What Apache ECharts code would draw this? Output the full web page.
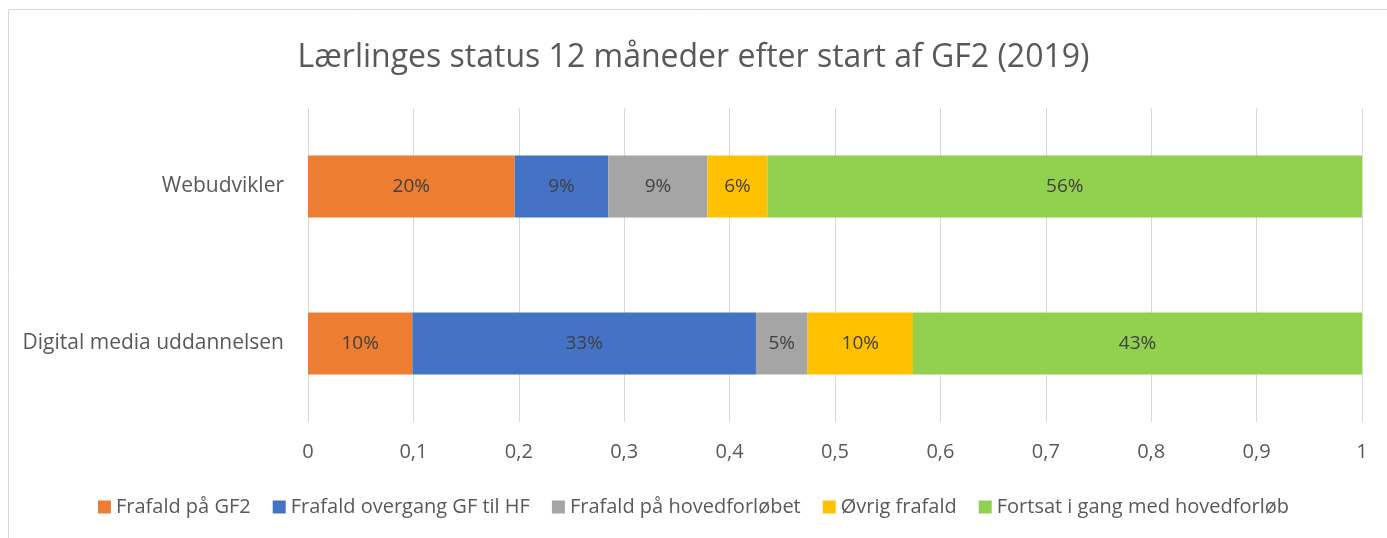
<!DOCTYPE html>
<html>
<head>
<meta charset="utf-8">
<script src="https://cdn.jsdelivr.net/npm/echarts@6/dist/echarts.min.js"></script>
<style>
  html, body { margin: 0; padding: 0; background: #fff; }
  #main { width: 1387px; height: 538px; }
</style>
</head>
<body>
<div id="main"></div>
<script>
'use strict'

// categories (bottom to top as drawn by the y category axis)
const categories = ['Digital media uddannelsen', 'Webudvikler'];

// shares per status, same order as categories
const frafaldGF2 = [0.099, 0.196];
const frafaldOvergang = [0.326, 0.089];
const frafaldHoved = [0.049, 0.094];
const oevrigFrafald = [0.100, 0.057];
const fortsat = [0.426, 0.564];

const seriesNames = ['Frafald på GF2', 'Frafald overgang GF til HF', 'Frafald på hovedforløbet', 'Øvrig frafald', 'Fortsat i gang med hovedforløb'];
const seriesValues = [frafaldGF2, frafaldOvergang, frafaldHoved, oevrigFrafald, fortsat];
const colors = ['#ED7D31', '#4472C4', '#A5A5A5', '#FFC000', '#92D050'];

const font = 'Open Sans';
const textColor = '#595959';

var myChart = echarts.init(document.getElementById('main'), null, { renderer: 'canvas' });

// build the stacked bar series
let series = [];
for (let i = 0; i < seriesNames.length; i++) {
  series.push({
    name: seriesNames[i],
    type: 'bar',
    stack: 'total',
    barWidth: 62,
    data: seriesValues[i],
    itemStyle: { color: colors[i] },
    label: {
      show: true,
      position: 'inside',
      color: '#404040',
      fontFamily: font,
      fontSize: 19,
      formatter: p => Math.round(p.value * 100) + '%'
    }
  });
}

var option = {
  animation: false,
  backgroundColor: '#fff',
  color: colors,
  title: {
    text: 'Lærlinges status 12 måneder efter start af GF2 (2019)',
    left: 'center',
    top: 37,
    textStyle: { fontFamily: font, fontSize: 32, fontWeight: 'normal', color: textColor }
  },
  legend: {
    bottom: 16,
    left: 'center',
    itemWidth: 13,
    itemHeight: 13,
    itemGap: 22,
    icon: 'rect',
    textStyle: { fontFamily: font, fontSize: 20, color: textColor },
    data: seriesNames
  },
  grid: {
    left: 308,
    right: 25,
    top: 108,
    bottom: 116,
    containLabel: false
  },
  xAxis: {
    type: 'value',
    min: 0,
    max: 1,
    interval: 0.1,
    axisLine: { show: false },
    axisTick: { show: false },
    splitLine: { show: true, lineStyle: { color: '#d9d9d9', width: 1 } },
    axisLabel: {
      margin: 20,
      fontFamily: font,
      fontSize: 20,
      color: textColor,
      formatter: v => String(Math.round(v * 10) / 10).replace('.', ',')
    }
  },
  yAxis: {
    type: 'category',
    data: categories,
    axisLine: { show: false },
    axisTick: { show: false },
    axisLabel: { margin: 24, fontFamily: font, fontSize: 21, color: textColor }
  },
  graphic: [{
    type: 'rect',
    shape: { x: 8.5, y: 9.5, width: 1400, height: 560 },
    style: { fill: null, stroke: '#d9d9d9', lineWidth: 1 },
    silent: true
  }],
  series: series
};

myChart.setOption(option);
</script>
</body>
</html>
